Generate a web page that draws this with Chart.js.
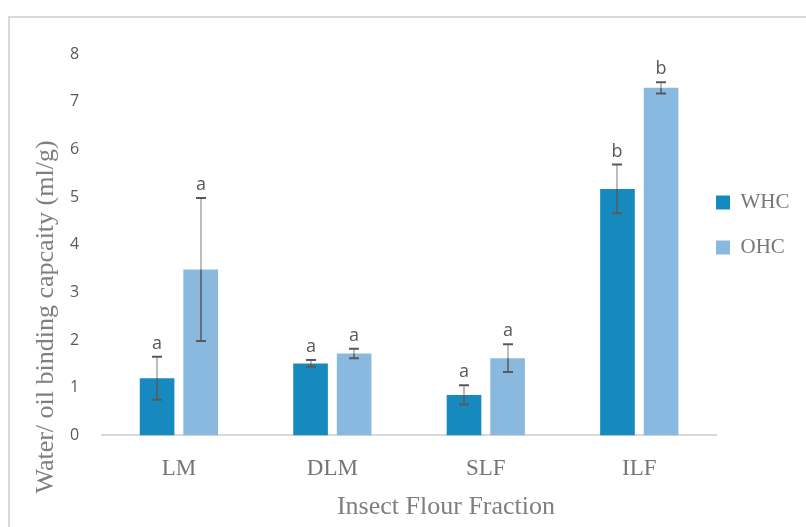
<!DOCTYPE html>
<html>
<head>
<meta charset="utf-8">
<script src="https://cdn.jsdelivr.net/npm/chart.js@4/dist/chart.umd.min.js"></script>
<style>
	html, body { margin: 0; padding: 0; background: #fff; }
	#wrap { position: relative; width: 806px; height: 527px; overflow: hidden; }
	#frame { position: absolute; left: 8px; top: 16px; width: 820px; height: 540px; border-left: 2px solid #d9d9d9; border-top: 2px solid #d9d9d9; box-sizing: border-box; }
	canvas { position: absolute; left: 0; top: 0; }
</style>
</head>
<body>
<div id="wrap">
	<div id="frame"></div>
	<canvas id="chart" width="806" height="527"></canvas>
</div>
<script>
const categories = ['LM', 'DLM', 'SLF', 'ILF'];
const whc = [1.2, 1.51, 0.85, 5.17];
const ohc = [3.48, 1.72, 1.62, 7.29];
const whcErr = [0.45, 0.07, 0.2, 0.51];
const ohcErr = [1.5, 0.1, 0.29, 0.12];
const whcLetters = ['a', 'a', 'a', 'b'];
const ohcLetters = ['a', 'a', 'a', 'b'];
const yTitle = 'Water/ oil binding capcaity (ml/g)';
const xTitle = 'Insect Flour Fraction';

const serif = '"Liberation Serif", serif';
const sans = '"Open Sans", sans-serif';

// error bars + significance letters, drawn off the chart's own scales
const errorBars = {
	id: 'errorBars',
	afterDatasetsDraw(chart) {
		const ctx = chart.ctx;
		const y = chart.scales.y;
		const errs = [whcErr, ohcErr];
		const letters = [whcLetters, ohcLetters];
		chart.data.datasets.forEach((ds, di) => {
			const meta = chart.getDatasetMeta(di);
			meta.data.forEach((bar, i) => {
				const v = ds.data[i];
				const top = y.getPixelForValue(v + errs[di][i]);
				const bot = y.getPixelForValue(v - errs[di][i]);
				const mid = y.getPixelForValue(v);
				const x = Math.round(bar.x);
				ctx.save();
				ctx.lineWidth = 1.5;
				ctx.strokeStyle = '#a6a6a6';
				ctx.beginPath();
				ctx.moveTo(x, top);
				ctx.lineTo(x, Math.min(mid, bot));
				ctx.stroke();
				ctx.strokeStyle = '#595959';
				ctx.beginPath();
				ctx.moveTo(x, Math.max(mid, top));
				ctx.lineTo(x, bot);
				ctx.stroke();
				ctx.lineWidth = 2;
				ctx.beginPath();
				ctx.moveTo(x - 5, top);
				ctx.lineTo(x + 5, top);
				ctx.moveTo(x - 5, bot);
				ctx.lineTo(x + 5, bot);
				ctx.stroke();
				ctx.fillStyle = '#595959';
				ctx.font = '18px ' + sans;
				ctx.textAlign = 'center';
				ctx.textBaseline = 'bottom';
				ctx.fillText(letters[di][i], x, top - 4);
				ctx.restore();
			});
		});
	}
};

// axis titles placed where the original has them
const axisTitles = {
	id: 'axisTitles',
	afterDraw(chart) {
		const ctx = chart.ctx;
		ctx.save();
		ctx.fillStyle = '#7f7f7f';
		ctx.font = '26px ' + serif;
		ctx.textAlign = 'center';
		ctx.textBaseline = 'middle';
		ctx.fillText(xTitle, 446, 507);
		ctx.translate(46, 317);
		ctx.rotate(-Math.PI / 2);
		ctx.fillText(yTitle, 0, 0);
		ctx.restore();
	}
};

new Chart(document.getElementById('chart'), {
	type: 'bar',
	data: {
		labels: categories,
		datasets: [{
			label: 'WHC',
			data: whc,
			backgroundColor: '#168abf',
			categoryPercentage: 0.568,
			barPercentage: 0.795,
		}, {
			label: 'OHC',
			data: ohc,
			backgroundColor: '#8ab9e0',
			categoryPercentage: 0.568,
			barPercentage: 0.795,
		}]
	},
	options: {
		responsive: false,
		animation: false,
		layout: {
			padding: { left: 55, top: 54, right: 16, bottom: 32 }
		},
		scales: {
			x: {
				grid: { display: false },
				border: { display: true, color: '#d9d9d9', width: 2 },
				ticks: {
					color: '#767676',
					padding: 12,
					font: { size: 23, family: serif },
				}
			},
			y: {
				min: 0,
				max: 8,
				grid: { display: false },
				border: { display: false },
				ticks: {
					stepSize: 1,
					color: '#595959',
					padding: 15,
					font: { size: 16, family: sans },
				}
			}
		},
		plugins: {
			legend: {
				position: 'right',
				align: 'start',
				maxWidth: 74,
				title: {
					display: true,
					text: ' ',
					padding: { top: 126, bottom: 0 },
					font: { size: 10 },
				},
				labels: {
					boxWidth: 14,
					boxHeight: 14,
					padding: 0,
					color: '#767676',
					font: { size: 21, family: serif, lineHeight: 45 / 21 },
					// array text so each row takes the font's line height
					generateLabels: (chart) => Chart.defaults.plugins.legend.labels.generateLabels(chart)
						.map(item => ({ ...item, text: [item.text] })),
				}
			},
			tooltip: { enabled: false },
		}
	},
	plugins: [errorBars, axisTitles]
});
</script>
</body>
</html>
